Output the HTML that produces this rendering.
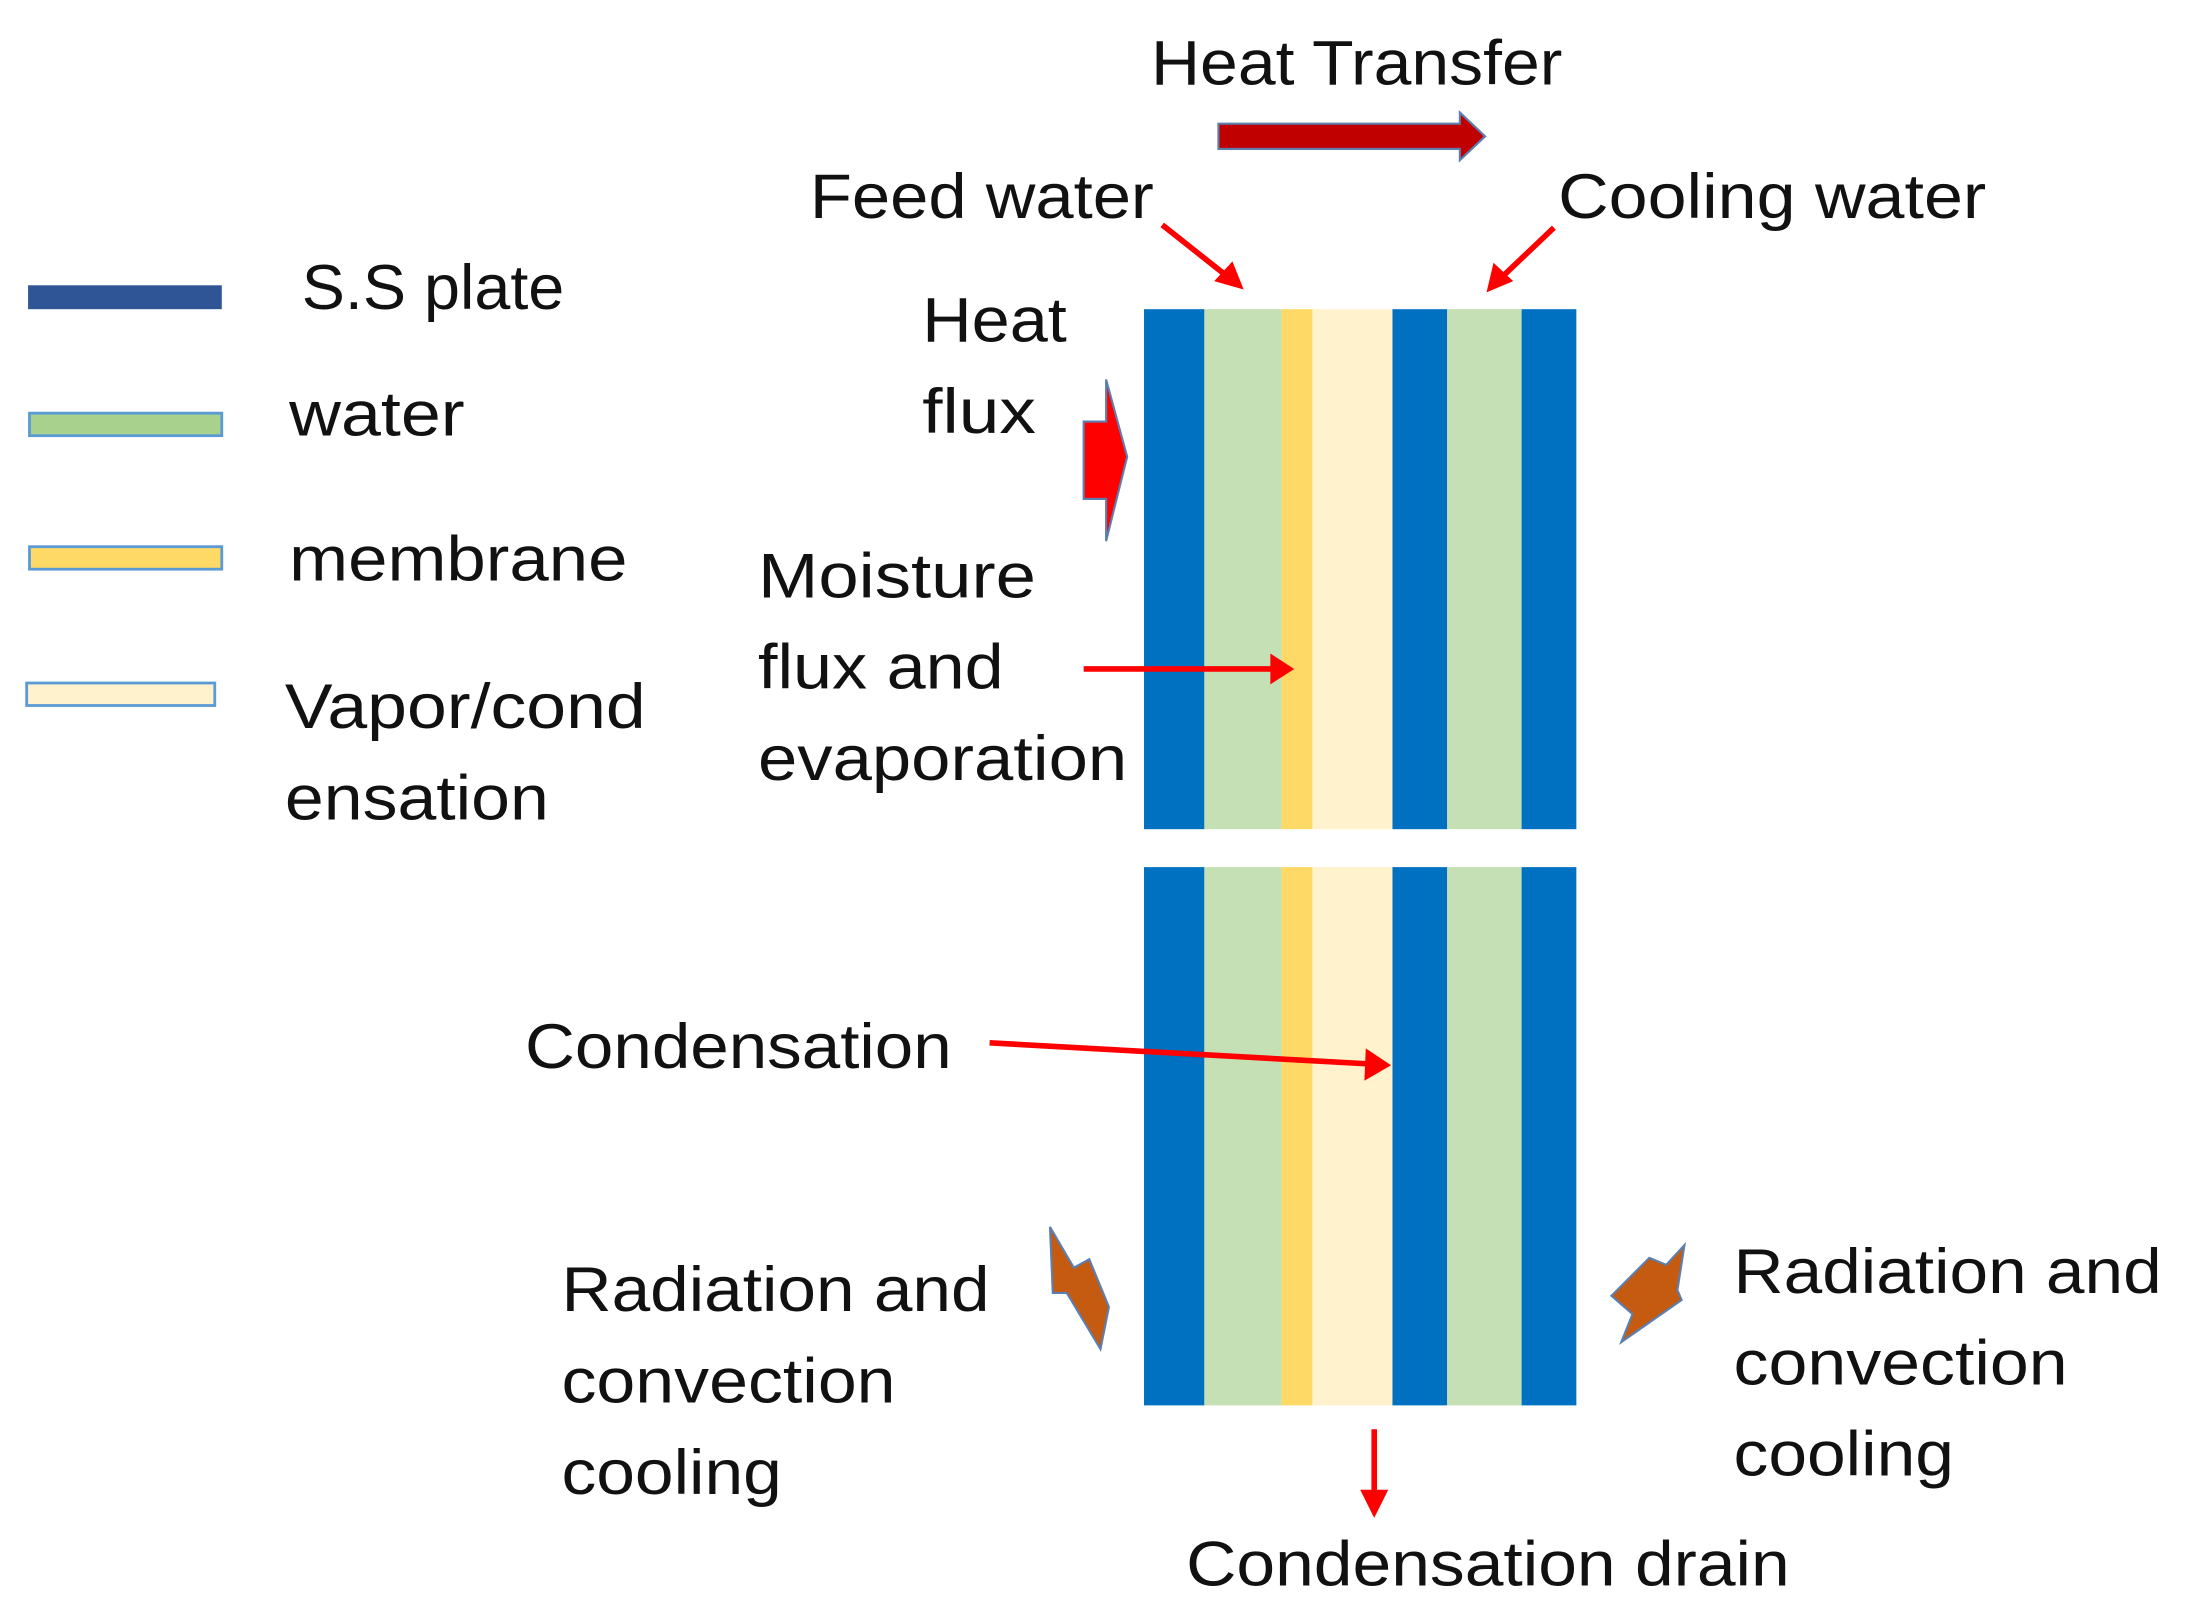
<!DOCTYPE html>
<html><head><meta charset="utf-8"><style>html,body{margin:0;padding:0;background:#fff}svg{display:block}</style></head>
<body>
<svg width="2201" height="1619" viewBox="0 0 1568 1152" preserveAspectRatio="none" xmlns="http://www.w3.org/2000/svg">
<g font-family="Liberation Sans, sans-serif" font-size="45" fill="#111">
<rect x="20" y="203" width="138" height="17" fill="#2F5597"/>
<rect x="21" y="294" width="137" height="16" fill="#A9D18E" stroke="#5B9BD5" stroke-width="2"/>
<rect x="21" y="389" width="137" height="16" fill="#FFD966" stroke="#5B9BD5" stroke-width="2"/>
<rect x="19" y="486" width="134" height="16" fill="#FFF2CC" stroke="#5B9BD5" stroke-width="2"/>
<text x="215" y="220" textLength="187" lengthAdjust="spacingAndGlyphs">S.S plate</text>
<text x="206" y="310" textLength="125" lengthAdjust="spacingAndGlyphs">water</text>
<text x="206" y="413" textLength="241" lengthAdjust="spacingAndGlyphs">membrane</text>
<text x="203" y="518" textLength="257" lengthAdjust="spacingAndGlyphs">Vapor/cond</text>
<text x="203" y="583" textLength="188" lengthAdjust="spacingAndGlyphs">ensation</text>
<g>
<rect x="815" y="220" width="43" height="370" fill="#0070C0"/>
<rect x="858" y="220" width="55" height="370" fill="#C5E0B4"/>
<rect x="913" y="220" width="22" height="370" fill="#FFD966"/>
<rect x="935" y="220" width="57" height="370" fill="#FFF2CC"/>
<rect x="992" y="220" width="39" height="370" fill="#0070C0"/>
<rect x="1031" y="220" width="53" height="370" fill="#C5E0B4"/>
<rect x="1084" y="220" width="39" height="370" fill="#0070C0"/>
</g>
<g>
<rect x="815" y="617" width="43" height="383" fill="#0070C0"/>
<rect x="858" y="617" width="55" height="383" fill="#C5E0B4"/>
<rect x="913" y="617" width="22" height="383" fill="#FFD966"/>
<rect x="935" y="617" width="57" height="383" fill="#FFF2CC"/>
<rect x="992" y="617" width="39" height="383" fill="#0070C0"/>
<rect x="1031" y="617" width="53" height="383" fill="#C5E0B4"/>
<rect x="1084" y="617" width="39" height="383" fill="#0070C0"/>
</g>
<text x="820" y="60" textLength="293" lengthAdjust="spacingAndGlyphs">Heat Transfer</text>
<polygon points="868,88 1040,88 1040,80 1058,97 1040,114 1040,106 868,106" fill="#C00000" stroke="#5B7FB0" stroke-width="1.5"/>
<text x="577" y="155" textLength="245" lengthAdjust="spacingAndGlyphs">Feed water</text>
<text x="1110" y="155" textLength="305" lengthAdjust="spacingAndGlyphs">Cooling water</text>
<g stroke="#FF0000" stroke-width="4" fill="#FF0000">
<line x1="828" y1="160" x2="876" y2="198"/>
<polygon points="886,206 865,200 878,186" stroke="none"/>
<line x1="1107" y1="162" x2="1068" y2="199"/>
<polygon points="1059,208 1064,187 1078,200" stroke="none"/>
<line x1="772" y1="476" x2="908" y2="476"/>
<polygon points="922,476 905,465 905,487" stroke="none"/>
<line x1="705" y1="742" x2="975" y2="757"/>
<polygon points="991,758 973,746 972,769" stroke="none"/>
<line x1="979" y1="1017" x2="979" y2="1064"/>
<polygon points="979,1080 969,1060 989,1060" stroke="none"/>
</g>
<text x="657" y="243" textLength="103" lengthAdjust="spacingAndGlyphs">Heat</text>
<text x="657" y="308" textLength="81" lengthAdjust="spacingAndGlyphs">flux</text>
<polygon points="772,300 788,300 788,270 803,325 788,385 788,355 772,355" fill="#FF0000" stroke="#5B7FB0" stroke-width="1.5"/>
<text x="540" y="425" textLength="198" lengthAdjust="spacingAndGlyphs">Moisture</text>
<text x="540" y="490" textLength="175" lengthAdjust="spacingAndGlyphs">flux and</text>
<text x="540" y="555" textLength="263" lengthAdjust="spacingAndGlyphs">evaporation</text>
<text x="374" y="760" textLength="304" lengthAdjust="spacingAndGlyphs">Condensation</text>
<polygon points="748,873 765,902 776,896 790,930 784,960 760,920 750,920" fill="#C55A11" stroke="#5B7FB0" stroke-width="1.5"/>
<polygon points="1200,886 1195,918 1198,925 1155,955 1163,935 1148,922 1175,895 1187,900" fill="#C55A11" stroke="#5B7FB0" stroke-width="1.5"/>
<text x="400" y="933" textLength="305" lengthAdjust="spacingAndGlyphs">Radiation and</text>
<text x="400" y="998" textLength="238" lengthAdjust="spacingAndGlyphs">convection</text>
<text x="400" y="1063" textLength="157" lengthAdjust="spacingAndGlyphs">cooling</text>
<text x="1235" y="920" textLength="305" lengthAdjust="spacingAndGlyphs">Radiation and</text>
<text x="1235" y="985" textLength="238" lengthAdjust="spacingAndGlyphs">convection</text>
<text x="1235" y="1050" textLength="157" lengthAdjust="spacingAndGlyphs">cooling</text>
<text x="845" y="1128" textLength="430" lengthAdjust="spacingAndGlyphs">Condensation drain</text>
</g>
</svg>
</body></html>
